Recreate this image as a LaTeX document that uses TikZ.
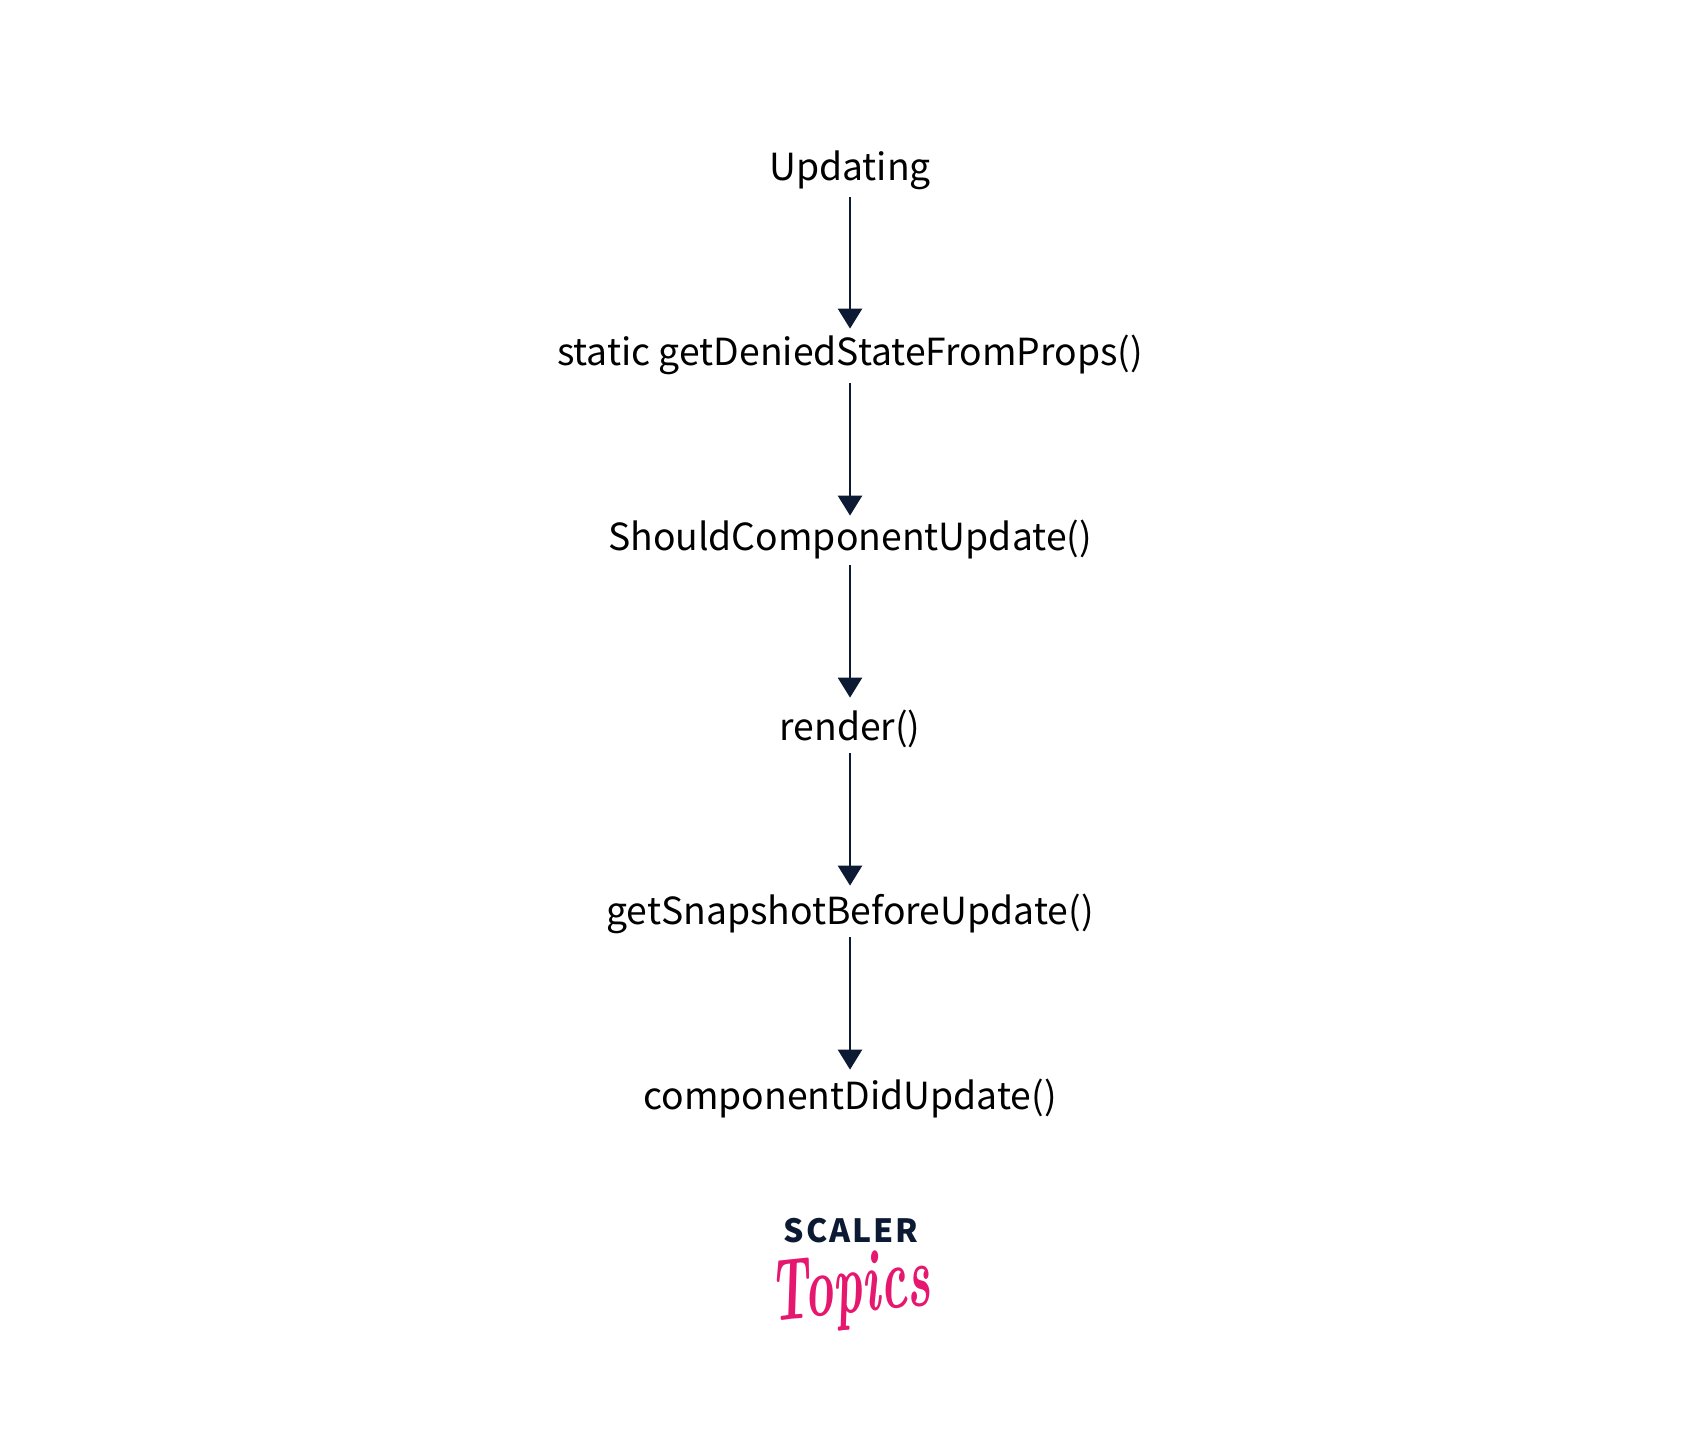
\documentclass[tikz,border=0pt]{standalone}
\usepackage{fontspec}
\usepackage{xcolor}
\setmainfont{Noto Sans CJK JP}
\definecolor{scalernavy}{HTML}{0C1A33}
\definecolor{scalerpink}{HTML}{E6176F}
\usetikzlibrary{arrows.meta}
\begin{document}
\begin{tikzpicture}[x=0.5pt,y=-0.5pt,
                method/.style 2 args={anchor=base,inner sep=0pt,text height=#1,text depth=#2,text=black,font=\fontsize{18.65}{22}\selectfont},
                flow/.style={draw=scalernavy,line width=1.3pt,-{Triangle[length=10pt,width=12pt]}}]
                \useasboundingbox (0,0) rectangle (1700,1431);
                \node[method={14pt}{8.5pt}] (updating) at (850,180) {Updating};
                \node[method={18pt}{9pt}] (denied) at (850,365) {static getDeniedStateFromProps()};
                \node[method={17pt}{7.5pt}] (should) at (850,550) {ShouldComponentUpdate()};
                \node[method={21pt}{6.5pt}] (render) at (850,740) {render()};
                \node[method={19pt}{6.5pt}] (snapshot) at (850,924) {getSnapshotBeforeUpdate()};
                \node[method={19.5pt}{7pt}] (didupdate) at (850,1109) {componentDidUpdate()};
                \draw[flow] (updating) -- (denied);
                \draw[flow] (denied) -- (should);
                \draw[flow] (should) -- (render);
                \draw[flow] (render) -- (snapshot);
                \draw[flow] (snapshot) -- (didupdate);
                \node[inner sep=0pt,text=scalernavy] (scaler) at (851,1231) {\fontsize{16}{18}\selectfont\bfseries S\kern1pt C\kern1pt A\kern1pt L\kern1pt E\kern1pt R};
                \node[inner sep=0pt,text=scalerpink,rotate=6] (topics) at (850,1292) {\scalebox{0.56}[1]{\fontsize{44}{48}\usefont{TU}{lmr}{bx}{it}Topics}};
            \end{tikzpicture}
\end{document}
